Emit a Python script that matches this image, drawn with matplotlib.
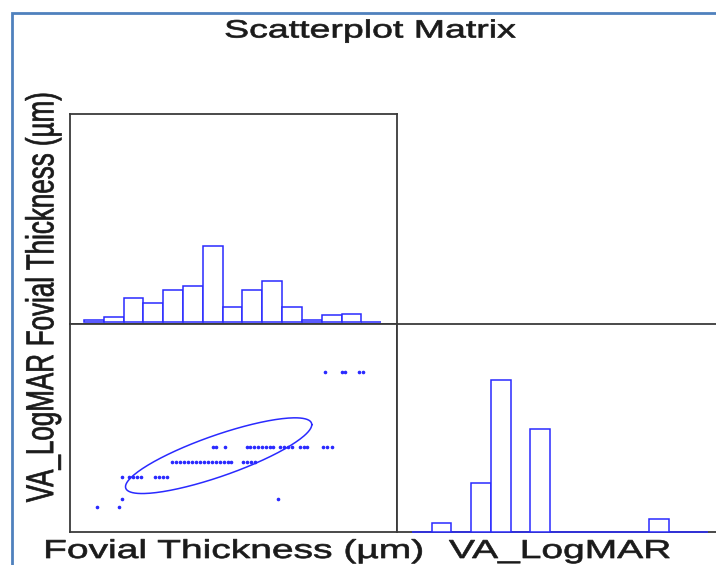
import matplotlib
matplotlib.use("Agg")
import matplotlib.pyplot as plt
import matplotlib.patheffects as pe
import numpy as np
from matplotlib.patches import Rectangle
from matplotlib.transforms import Affine2D

# --- values ---
# foveal thickness histogram (um): 15 bins of 20 um from 150
THICK_START = 150
THICK_WIDTH = 20
THICK_COUNTS = [1, 3, 14, 11, 19, 21, 45, 9, 19, 24, 9, 1, 4, 5, 0]

# VA_LogMAR histogram
VA_START = 0.0
VA_WIDTH = 0.075
VA_COUNTS = [0, 2, 0, 11, 34, 0, 23, 0, 0, 0, 0, 0, 3, 0, 0]

# scatter: thickness values found at each VA level
VA_LEVELS = [1.0, 0.5, 0.4, 0.3, 0.15, 0.1]
THICK_BY_LEVEL = [
    [393, 410, 414, 428, 432],
    [280, 283, 292, 315, 318, 322, 326, 330, 334, 338, 341, 348, 352, 356,
     360, 368, 372, 375, 391, 395, 400],
    [239, 243, 247, 251, 255, 259, 263, 267, 271, 275, 279, 283, 287, 291,
     295, 298, 311, 315, 319, 323],
    [188, 196, 200, 204, 208, 222, 226, 230, 234],
    [188, 346],
    [163, 185],
]

# confidence ellipse: centre, spread along each axis, correlation
ELLIPSE_CENTER = (286, 0.44)
ELLIPSE_SPREAD = (94, 0.253)
ELLIPSE_RHO = 0.82

THICK_LIM = (136, 466)
VA_LIM = (-0.07, 1.32)
VA_HIST_LIM = (-0.057, 1.182)

BLUE = "#2a2aff"
SPINE = "#3a3a3a"
INK = "#1a1a1a"
FONT = "Liberation Sans"
W, H = 716, 565


class Stretch(pe.AbstractPathEffect):
    """Widen the glyphs: the original picture was stretched sideways."""

    def __init__(self, sx=1.0, sy=1.0, weight=0.5):
        super().__init__()
        self.sx, self.sy, self.weight = sx, sy, weight

    def draw_path(self, renderer, gc, tpath, affine, rgbFace=None):
        bb = tpath.get_extents()
        cx, cy = (bb.x0 + bb.x1) / 2, (bb.y0 + bb.y1) / 2
        st = Affine2D().translate(-cx, -cy).scale(self.sx, self.sy).translate(cx, cy)
        gc0 = renderer.new_gc()
        gc0.copy_properties(gc)
        gc0.set_linewidth(self.weight)
        gc0.set_foreground(rgbFace)
        renderer.draw_path(gc0, tpath, st + affine, rgbFace)
        gc0.restore()


def px_box(x0, y0, x1, y1):
    return [x0 / W, 1 - y1 / H, (x1 - x0) / W, (y1 - y0) / H]


def bare(ax):
    ax.set_xticks([])
    ax.set_yticks([])
    for s in ax.spines.values():
        s.set_color(SPINE)
        s.set_linewidth(1.3)


def hist_bars(ax, start, width, counts, **kw):
    edges = start + width * np.arange(len(counts))
    ax.bar(edges, counts, width=width, align="edge", facecolor="white",
           edgecolor=BLUE, linewidth=1.1, **kw)


fig = plt.figure(figsize=(W / 100, H / 100), dpi=100)

# top-left: thickness histogram
ax_th = fig.add_axes(px_box(70, 114, 397, 324))
hist_bars(ax_th, THICK_START, THICK_WIDTH, THICK_COUNTS)
ax_th.set_xlim(THICK_LIM)
ax_th.set_ylim(-1.2, 123)
bare(ax_th)

# bottom-left: scatter + ellipse
ax_sc = fig.add_axes(px_box(70, 324, 397, 532))
xs = np.concatenate([np.array(v, float) for v in THICK_BY_LEVEL])
ys = np.concatenate([np.full(len(v), lvl) for lvl, v in zip(VA_LEVELS, THICK_BY_LEVEL)])
ax_sc.plot(xs, ys, ".", color=BLUE, markersize=3.2)
t = np.linspace(0, 2 * np.pi, 200)
ex = ELLIPSE_CENTER[0] + ELLIPSE_SPREAD[0] * np.cos(t)
ey = ELLIPSE_CENTER[1] + ELLIPSE_SPREAD[1] * (
    ELLIPSE_RHO * np.cos(t) + np.sqrt(1 - ELLIPSE_RHO ** 2) * np.sin(t))
ax_sc.plot(ex, ey, color=BLUE, linewidth=1.1)
ax_sc.set_xlim(THICK_LIM)
ax_sc.set_ylim(VA_LIM)
bare(ax_sc)

# bottom-right: VA histogram (runs past the right edge, as in the source)
ax_va = fig.add_axes(px_box(397, 324, 723, 532))
hist_bars(ax_va, VA_START, VA_WIDTH, VA_COUNTS, zorder=3, clip_on=False)
ax_va.set_xlim(VA_HIST_LIM)
ax_va.set_ylim(0, 46.5)
bare(ax_va)

# labels
wide = [Stretch(sx=1.5)]
tall = [Stretch(sy=1.5)]
fig.text(370 / W, 1 - 37.5 / H, "Scatterplot Matrix", ha="center", va="baseline",
         fontsize=18, family=FONT, color=INK, path_effects=wide)
fig.text(234 / W, 1 - 558 / H, "Fovial Thickness (µm)", ha="center", va="baseline",
         fontsize=18.7, family=FONT, color=INK, path_effects=wide)
fig.text(560 / W, 1 - 558 / H, "VA_LogMAR", ha="center", va="baseline",
         fontsize=18.7, family=FONT, color=INK, path_effects=wide)
fig.text(43 / W, 1 - 219 / H, "Fovial Thickness (µm)", ha="center", va="center",
         rotation=90, fontsize=18.7, family=FONT, color=INK, path_effects=tall)
fig.text(43 / W, 1 - 428 / H, "VA_LogMAR", ha="center", va="center",
         rotation=90, fontsize=18.7, family=FONT, color=INK, path_effects=tall)

# blue frame of the original screenshot
fig.add_artist(Rectangle((12 / W, -0.5), 2, 0.5 + 1 - 13 / H, transform=fig.transFigure,
                         fill=False, edgecolor="#4f81bd", linewidth=2, clip_on=False))

fig.savefig("out.png", dpi=100)
